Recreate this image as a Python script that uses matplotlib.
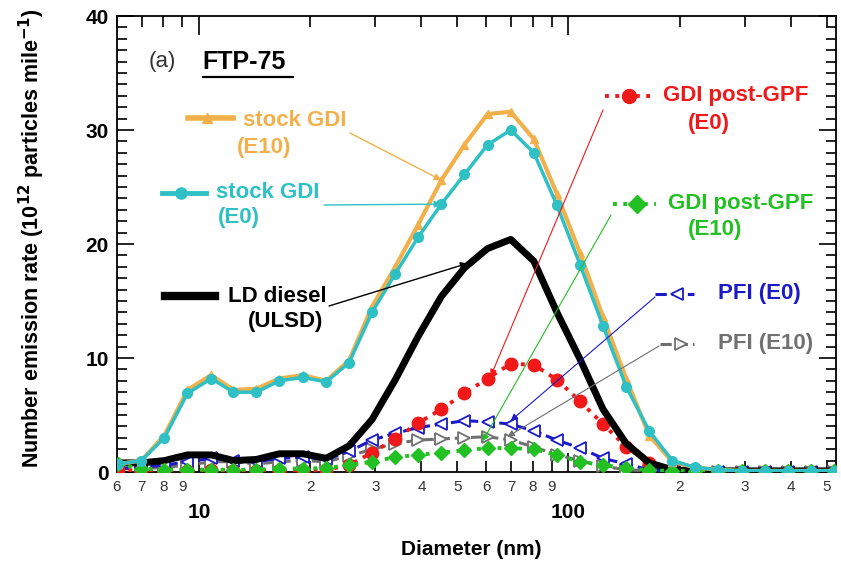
import matplotlib
matplotlib.use("Agg")
import matplotlib.pyplot as plt
from matplotlib.ticker import FixedLocator, FixedFormatter

plt.rcParams['font.family'] = ['Liberation Sans', 'DejaVu Sans']

# EEPS channel mid-point diameters (nm)
diameter = [6.04, 6.98, 8.06, 9.31, 10.8, 12.4, 14.3, 16.5, 19.1, 22.1, 25.5,
            29.4, 34.0, 39.2, 45.3, 52.3, 60.4, 69.8, 80.6, 93.1, 107.5, 124.1,
            143.3, 165.5, 191.1, 220.7, 254.8, 294.3, 339.8, 392.4, 453.2, 523.3]

stock_e10 = [0.7, 1.0, 3.2, 7.2, 8.5, 7.2, 7.3, 8.2, 8.5, 8.0, 9.8, 14.5, 18.0,
             21.7, 25.6, 28.7, 31.4, 31.6, 29.2, 24.4, 19.2, 13.6, 8.2, 3.2, 0.9,
             0.4, 0.2, 0.1, 0.1, 0.1, 0.1, 0.1]
stock_e0 = [0.7, 1.0, 3.0, 6.9, 8.2, 7.0, 7.0, 8.0, 8.3, 7.9, 9.6, 14.0, 17.4,
            20.6, 23.5, 26.1, 28.7, 30.0, 28.0, 23.4, 18.2, 12.8, 7.5, 3.6, 1.0,
            0.4, 0.2, 0.1, 0.1, 0.1, 0.1, 0.1]
ld_diesel = [0.8, 0.8, 1.0, 1.5, 1.5, 1.0, 1.1, 1.6, 1.6, 1.2, 2.3, 4.6, 8.1,
             11.9, 15.4, 17.9, 19.6, 20.4, 18.5, 14.0, 9.9, 5.5, 2.5, 0.8, 0.2,
             0.1, 0.1, 0.1, 0.1, 0.1, 0.1, 0.1]
gpf_e0 = [0.2, 0.1, 0.0, 0.1, 0.2, 0.1, 0.1, 0.1, 0.1, 0.2, 0.6, 1.7, 2.9, 4.3,
          5.5, 6.9, 8.2, 9.5, 9.4, 8.1, 6.2, 4.2, 2.2, 0.8, 0.2, 0.1, 0.0, 0.0,
          0.0, 0.0, 0.0, 0.0]
gpf_e10 = [0.7, 0.3, 0.2, 0.2, 0.2, 0.2, 0.2, 0.3, 0.3, 0.35, 0.6, 0.9, 1.3,
           1.5, 1.7, 1.9, 2.1, 2.1, 2.0, 1.5, 0.9, 0.6, 0.35, 0.15, 0.1, 0.1,
           0.1, 0.1, 0.1, 0.1, 0.1, 0.1]
pfi_e0 = [0.3, 0.4, 0.6, 0.9, 1.2, 1.0, 0.9, 1.2, 1.3, 1.1, 1.8, 2.8, 3.4, 3.9,
          4.2, 4.5, 4.4, 4.2, 3.6, 2.8, 2.1, 1.2, 0.7, 0.2, 0.1, 0.0, 0.0, 0.0,
          0.0, 0.0, 0.0, 0.0]
pfi_e10 = [0.3, 0.3, 0.4, 0.6, 0.9, 0.9, 0.7, 0.9, 1.0, 0.9, 1.4, 2.0, 2.5, 2.8,
           2.9, 3.0, 3.1, 2.8, 2.2, 1.5, 1.0, 0.5, 0.2, 0.1, 0.0, 0.0, 0.0, 0.0,
           0.0, 0.0, 0.0, 0.0]

ORANGE = '#F2B04A'
CYAN = '#2EC0C4'
RED = '#F01818'
GREEN = '#22C022'
BLUE = '#1A1AC8'
GRAY = '#707070'

fig = plt.figure(figsize=(8.41, 5.63), dpi=100)
ax = fig.add_axes([117 / 841, 1 - 472 / 563, 719 / 841, 456 / 563])

ax.plot(diameter, pfi_e10, ls='--', color=GRAY, lw=2.2, marker='>', ms=8,
        mfc='white', mec=GRAY, mew=1.3, zorder=3)
ax.plot(diameter, pfi_e0, ls='--', color=BLUE, lw=2.2, marker='<', ms=8,
        mfc='white', mec=BLUE, mew=1.3, zorder=3)
ax.plot(diameter, gpf_e0, ls=':', color=RED, lw=2.8, marker='o', ms=9,
        zorder=4)
ax.plot(diameter, ld_diesel, color='black', lw=5, zorder=5)
ax.plot(diameter, gpf_e10, ls=':', color=GREEN, lw=2.8, marker='D', ms=7,
        zorder=6)
ax.plot(diameter, stock_e10, color=ORANGE, lw=3, marker='^', ms=6, zorder=7)
ax.plot(diameter, stock_e0, color=CYAN, lw=2.5, marker='o', ms=7, zorder=8)

ax.set_xscale('log')
ax.set_xlim(6, 530)
ax.set_ylim(0, 40)

# ticks
ax.xaxis.set_major_locator(FixedLocator([10, 100]))
ax.xaxis.set_major_formatter(FixedFormatter(['10', '100']))
minors = [6, 7, 8, 9, 20, 30, 40, 50, 60, 70, 80, 90, 200, 300, 400, 500]
ax.xaxis.set_minor_locator(FixedLocator(minors))
ax.xaxis.set_minor_formatter(FixedFormatter([str(m)[0] for m in minors]))
ax.set_yticks([0, 10, 20, 30, 40])
ax.set_yticks(range(0, 41), minor=True)

ax.tick_params(axis='both', which='both', direction='in', top=True, right=True,
               width=1.2)
ax.tick_params(axis='x', which='major', length=14, pad=22, labelsize=15)
ax.tick_params(axis='x', which='minor', length=8, pad=6, labelsize=11,
               labelcolor='#333333')
ax.tick_params(axis='y', which='major', length=12, labelsize=15, pad=6)
ax.tick_params(axis='y', which='minor', length=7)
for lab in ax.get_yticklabels() + ax.get_xticklabels():
    lab.set_fontweight('bold')
for sp in ax.spines.values():
    sp.set_linewidth(1.3)

ax.set_xlabel('Diameter (nm)', fontsize=15, fontweight='bold')
ax.xaxis.set_label_coords(0.493, -0.15)
ax.set_ylabel(r'Number emission rate (10$^{\mathbf{12}}$ particles mile$^{\mathbf{-1}}$)',
              fontsize=15.5, fontweight='bold')
ax.yaxis.set_label_coords(-0.098, 0.512)

# panel title
T = ax.transAxes
ax.text(0.063, 0.90, '(a)', transform=T, fontsize=16, color='#333333',
        ha='center', va='center')
ax.text(0.119, 0.90, 'FTP-75', transform=T, fontsize=18, fontweight='bold',
        ha='left', va='center')
ax.plot([0.119, 0.245], [0.866, 0.866], transform=T, color='black', lw=1.6,
        clip_on=False)


def fx(px):
    return (px - 117) / 719


def fy(py):
    return (472 - py) / 456


def sample(x0, x1, y, **kw):
    ax.plot([fx(x0), fx(x1)], [fy(y), fy(y)], transform=T, clip_on=False, **kw)


def mark(x, y, **kw):
    ax.plot([fx(x)], [fy(y)], transform=T, clip_on=False, **kw)


def label(x, y, s, color):
    ax.text(fx(x), fy(y), s, transform=T, fontsize=16, fontweight='bold',
            color=color, ha='left', va='center')


def pointer(x0, y0, xy, color, lw=1.0):
    ax.annotate('', xy=xy, xycoords='data', xytext=(fx(x0), fy(y0)),
                textcoords='axes fraction',
                arrowprops=dict(arrowstyle='-|>', color=color, lw=lw,
                                mutation_scale=10, shrinkA=0, shrinkB=0),
                zorder=9)


# stock GDI (E10)
sample(188, 233, 118, color=ORANGE, lw=4)
mark(207, 118, marker='^', ms=7, color=ORANGE)
label(243, 120, 'stock GDI', ORANGE)
label(237, 147, '(E10)', ORANGE)
pointer(350, 133, (diameter[14], stock_e10[14]), ORANGE)

# stock GDI (E0)
sample(162, 206, 193, color=CYAN, lw=3.5)
mark(181, 193, marker='o', ms=8, color=CYAN)
label(216, 193, 'stock GDI', CYAN)
label(218, 218, '(E0)', CYAN)
pointer(324, 205, (diameter[14], stock_e0[14]), CYAN)

# LD diesel
sample(165, 215, 296, color='black', lw=6)
label(228, 296, 'LD diesel', 'black')
label(248, 322, '(ULSD)', 'black')
pointer(329, 306, (diameter[15] * 1.02, ld_diesel[15] + 0.4), 'black')

# GDI post-GPF (E0)
sample(605, 650, 96, color=RED, lw=2.8, ls=':')
mark(629, 96, marker='o', ms=10, color=RED)
label(663, 96, 'GDI post-GPF', RED)
label(688, 123, '(E0)', RED)
pointer(603, 110, (diameter[16] * 1.02, gpf_e0[16] + 0.2), RED, lw=0.8)

# GDI post-GPF (E10)
sample(613, 656, 204, color=GREEN, lw=2.8, ls=':')
mark(637, 204, marker='D', ms=9, color=GREEN)
label(668, 203, 'GDI post-GPF', GREEN)
label(688, 229, '(E10)', GREEN)
pointer(611, 215, (diameter[16] * 0.97, gpf_e10[16] + 0.6), GREEN, lw=0.8)

# PFI (E0)
sample(655, 694, 294, color=BLUE, lw=2.2, ls='--')
mark(677, 294, marker='<', ms=9, color=BLUE, mfc='white', mew=1.3)
label(718, 294, 'PFI (E0)', BLUE)
pointer(655, 297, (diameter[17], pfi_e0[17] + 0.3), BLUE, lw=0.8)

# PFI (E10)
sample(660, 694, 344, color=GRAY, lw=2.2, ls='--')
mark(681, 344, marker='>', ms=9, color=GRAY, mfc='white', mew=1.3)
label(718, 344, 'PFI (E10)', GRAY)
pointer(659, 346, (diameter[17] * 0.98, pfi_e10[17] + 0.3), GRAY, lw=0.8)

fig.savefig('out.png', dpi=100)
